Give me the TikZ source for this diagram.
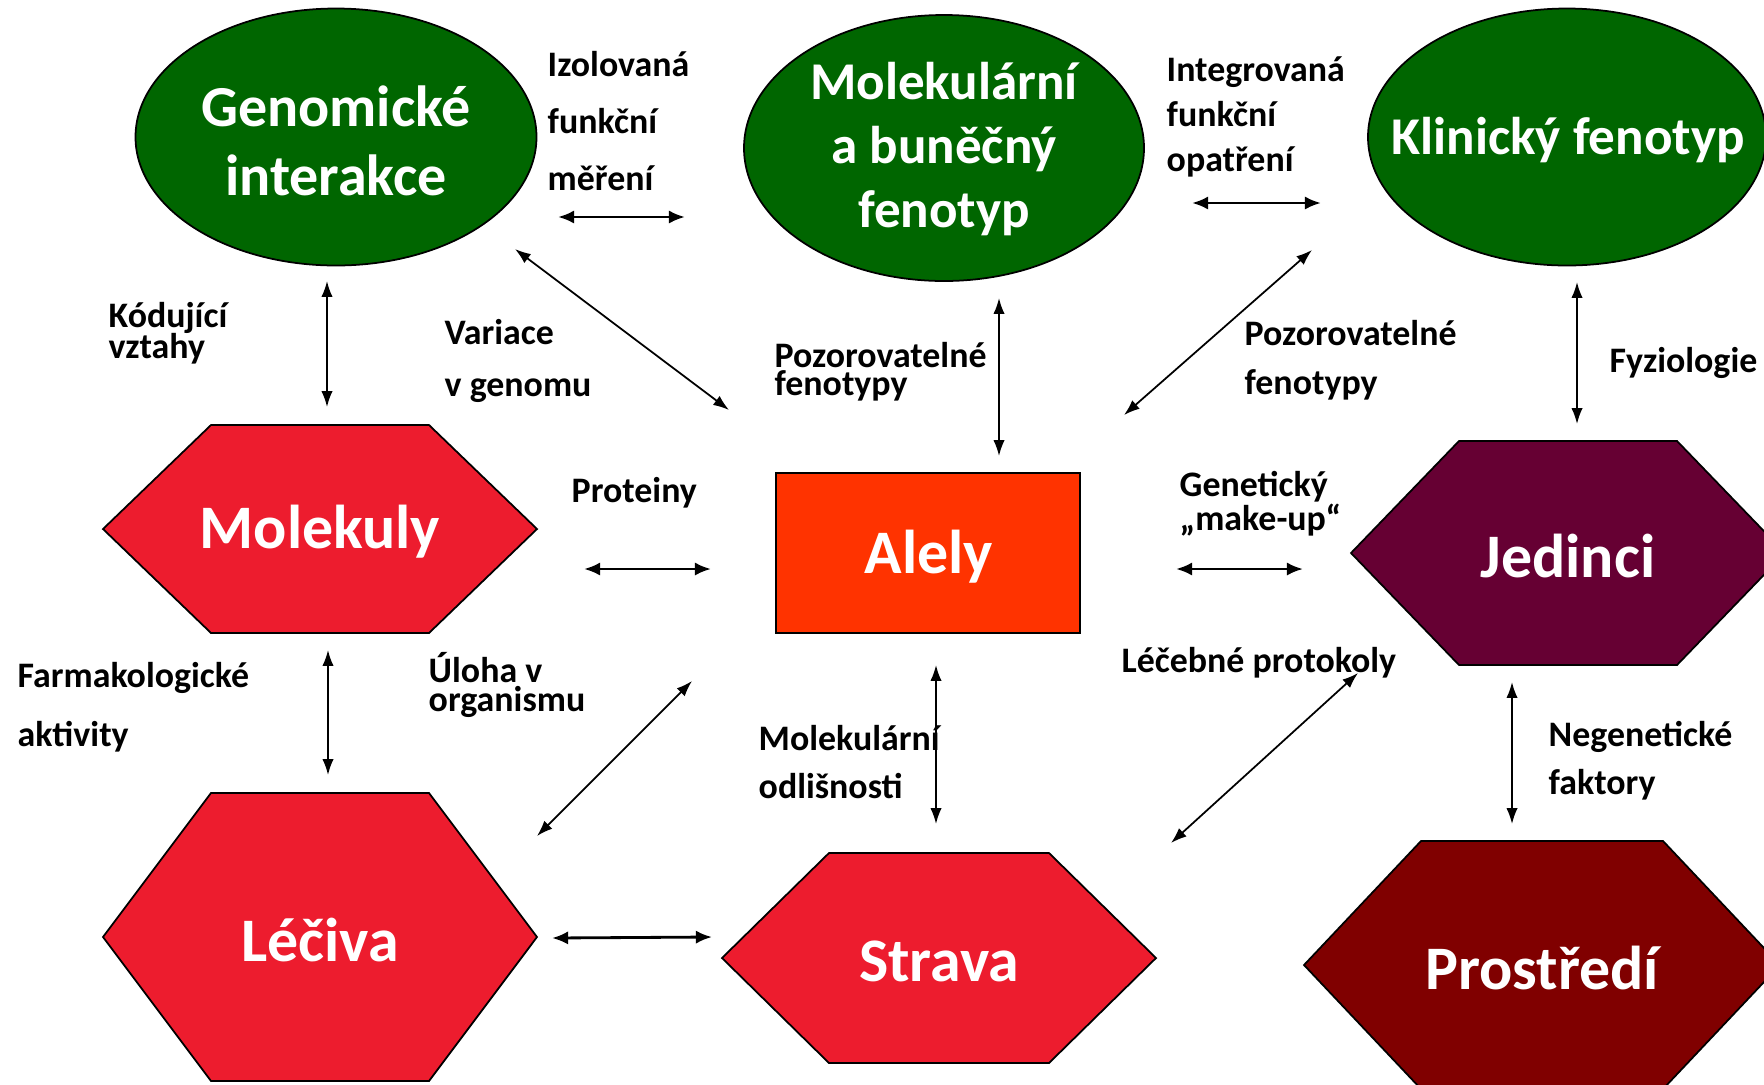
\documentclass[tikz,border=0pt]{standalone}
\usepackage{fontspec}
\setmainfont{Carlito}
\usepackage{tikz}
\usetikzlibrary{arrows.meta}
\definecolor{zelena}{RGB}{0,102,0}
\definecolor{cervena}{RGB}{237,28,46}
\definecolor{oranzova}{RGB}{255,51,0}
\definecolor{fialova}{RGB}{102,0,51}
\definecolor{bordo}{RGB}{128,0,0}

\begin{document}
\begin{tikzpicture}[x=0.01cm, y=-0.01cm,
    >={Latex[length=4.5pt,width=3.2pt]},   %Pfeilspitzen
    oval/.style={fill=zelena, draw=black, line width=0.5pt},
    hexa/.style={draw=black, line width=0.5pt},
    big/.style={text=white, align=center, inner sep=0pt, font={\fontsize{17.6}{21}\selectfont\bfseries}},
    lbl/.style={anchor=west, align=left, inner sep=0pt, font={\fontsize{10.2}{#1}\selectfont\bfseries\lineskiplimit=-20pt}},
    lbl/.default=12,
    arr/.style={<->, line width=0.5pt},
    harr/.style={<->, line width=0.8pt, >={Latex[length=4.6pt,width=3.8pt]}}]
    % Rahmen
    \fill[white] (0,0) rectangle (1764,1084);
    \useasboundingbox (0,0) rectangle (1764,1084);
    \clip (0,0) rectangle (1764,1084);
    % Ovaly nahore
    \filldraw[oval] (336,137) ellipse [x radius=200.5, y radius=128.5];
    \filldraw[oval] (944,148) ellipse [x radius=200, y radius=133];
    \filldraw[oval] (1567,137) ellipse [x radius=199, y radius=128.5];
    \node[big, font={\fontsize{16.5}{19.6}\selectfont\bfseries}] (genom) at (336,141) {Genomické\\interakce};
    \node[big, font={\fontsize{15.1}{18.2}\selectfont\bfseries}] (bunka) at (944,149) {Molekulární\\a buněčný\\fenotyp};
    \node[big, font={\fontsize{15.1}{18}\selectfont\bfseries}] (klinik) at (1568,140) {Klinický fenotyp};
    % Sestiuhelniky
    \foreach \nm/\cx/\cy/\w/\h/\d/\col/\txt in {
        molek/320/529/217/104/108/cervena/Molekuly,
        leciva/320/937/217/144/108/cervena/Léčiva,
        strava/939/958/217/105/107/cervena/Strava,
        jedinci/1568/553/217/112/108/fialova/Jedinci,
        prostr/1542/965/238/124/117/bordo/Prostředí}
    {
        \filldraw[hexa, fill=\col] (\cx-\w,\cy) -- (\cx-\w+\d,\cy-\h) -- (\cx+\w-\d,\cy-\h)
            -- (\cx+\w,\cy) -- (\cx+\w-\d,\cy+\h) -- (\cx-\w+\d,\cy+\h) -- cycle;
        \node[big] (\nm) at (\cx,\cy+3) {\txt};
    }
    % Alely
    \node[big, draw=black, fill=oranzova, line width=0.5pt, minimum width=3.04cm, minimum height=1.6cm] (alely) at (928,553) {};
    \node[big] (alelytxt) at (929,557) {Alely};
    % Popisky
    \node[lbl=16.2] (izol) at (547,121) {Izolovaná\\funkční\\měření};
    \node[lbl=12.7] (integ) at (1166,117) {Integrovaná\\funkční\\opatření};
    \node[lbl=8.7] (kodujici) at (108,333) {Kódující\\vztahy};
    \node[lbl=14.8] (variace) at (444,361) {Variace\\v genomu};
    \node[lbl=8] (pozorA) at (774,372) {Pozorovatelné\\fenotypy};
    \node[lbl=14] (pozorB) at (1244,360) {Pozorovatelné\\fenotypy};
    \node[lbl] (fyzio) at (1609,363) {Fyziologie};
    \node[lbl] (proteiny) at (571,493) {Proteiny};
    \node[lbl=9.6] (genet) at (1179,504) {Genetický\\„make-up“};
    \node[lbl] (lecebne) at (1121,663) {Léčebné protokoly};
    \node[lbl=16.8] (farmak) at (17,707) {Farmakologické\\aktivity};
    \node[lbl=8.5] (uloha) at (428,685) {Úloha v\\organismu};
    \node[lbl=13.7] (odlis) at (758,762) {Molekulární\\odlišnosti};
    \node[lbl=13.7] (negen) at (1548,761) {Negenetické\\faktory};
    % Konce sipek
    \coordinate (izolA) at (558,217);   \coordinate (izolB) at (685,217);
    \coordinate (integA) at (1192,203); \coordinate (integB) at (1321,203);
    \coordinate (kodA) at (327,281);    \coordinate (kodB) at (327,407);
    \coordinate (varA) at (515,249);    \coordinate (varB) at (729,410);
    \coordinate (pozA) at (999,298);    \coordinate (pozB) at (999,456);
    \coordinate (pozC) at (1312,250);   \coordinate (pozD) at (1124,415);
    \coordinate (fyzA) at (1577,282);   \coordinate (fyzB) at (1577,424);
    \coordinate (protA) at (584,569);   \coordinate (protB) at (711,569);
    \coordinate (genA) at (1176,569);   \coordinate (genB) at (1303,569);
    \coordinate (farA) at (328,650);    \coordinate (farB) at (328,775);
    \coordinate (ulA) at (692,681);     \coordinate (ulB) at (537,836);
    \coordinate (odlA) at (936,665);    \coordinate (odlB) at (936,824);
    \coordinate (lecA) at (1358,673);   \coordinate (lecB) at (1171,843);
    \coordinate (negA) at (1512,682);   \coordinate (negB) at (1512,824);
    \coordinate (strA) at (552,938);    \coordinate (strB) at (712,937);
    % Sipky
    \draw[harr] (izolA) -- (izolB);
    \draw[harr] (integA) -- (integB);
    \draw[harr] (protA) -- (protB);
    \draw[harr] (genA) -- (genB);
    \draw[harr] (strA) -- (strB);
    \draw[arr] (kodA) -- (kodB);
    \draw[arr] (varA) -- (varB);
    \draw[arr] (pozA) -- (pozB);
    \draw[arr] (pozC) -- (pozD);
    \draw[arr] (fyzA) -- (fyzB);
    \draw[arr] (farA) -- (farB);
    \draw[arr] (ulA) -- (ulB);
    \draw[arr] (odlA) -- (odlB);
    \draw[arr] (lecA) -- (lecB);
    \draw[arr] (negA) -- (negB);
\end{tikzpicture}
\end{document}
